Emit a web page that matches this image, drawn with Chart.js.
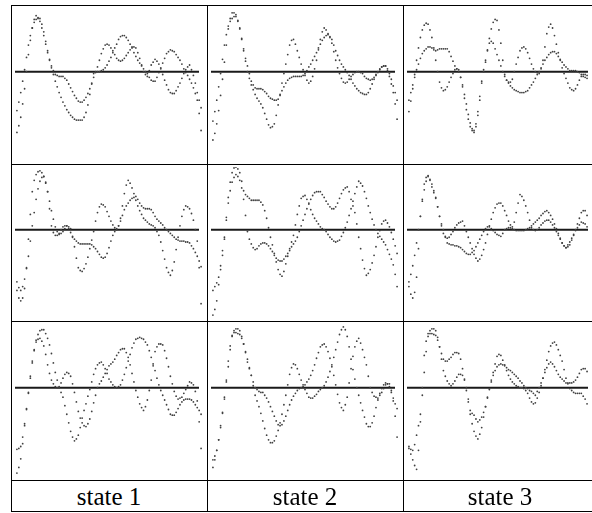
<!DOCTYPE html>
<html>
<head>
<meta charset="utf-8">
<script src="https://cdn.jsdelivr.net/npm/chart.js@4/dist/chart.umd.min.js"></script>
<style>
  body { margin: 0; background: #fff; }
  #page { position: relative; width: 592px; height: 513px; overflow: hidden; background: #fff; }
  canvas { position: absolute; }
  .hl, .vl { position: absolute; background: #000; z-index: 2; }
  .lbl {
    position: absolute; z-index: 2; text-align: center;
    font-family: "Liberation Serif", "Times New Roman", serif; font-size: 25px;
    height: 31px; line-height: 31px; color: #000;
  }
</style>
</head>
<body>
<div id="page"></div>
<script>
// sample positions along each panel (px from the panel's left edge)
const xs = [2,4,6,8,10,12,14,16,18,20,22,24,26,28,30,32,34,36,38,40,42,44,46,48,50,
  52,54,56,58,60,62,64,66,68,70,72,74,76,78,80,82,84,86,88,90,92,94,96,98,100,
  102,104,106,108,110,112,114,116,118,120,122,124,126,128,130,132,134,136,138,140,
  142,144,146,148,150,152,154,156,158,160,162,164,166,168,170,172,174,176,178,180,
  182,184,186,188,190,192,194];

const stateLabels = ["state 1", "state 2", "state 3"];

// row 1
const p11a = [-64,-57,-48,-34,-18,0,18,33,46,55,59,57,53,46,38,29,20,12,4,-3,
  -10,-16,-22,-27,-32,-36,-40,-43,-46,-48,-50,-51,-51,-51,-51,-48,-43,-35,-24,-13,
  -2,-1,0,0,1,2,4,7,11,15,20,25,29,34,37,38,38,36,33,29,
  25,20,16,12,9,6,3,0,-2,-6,-9,-10,-10,-6,-1,4,9,14,19,21,
  23,22,21,18,15,12,8,3,-1,-4,-8,-12,-17,-23,-30,-44,-62];
const p11b = [-41,-32,-22,-10,2,15,28,38,46,52,55,56,56,50,42,32,22,13,6,1,
  -3,-4,-5,-5,-5,-7,-9,-13,-17,-21,-25,-28,-31,-32,-32,-30,-27,-23,-18,-12,
  -6,0,5,12,19,24,28,29,28,25,22,18,14,12,11,12,14,17,20,23,
  26,26,25,20,14,7,0,-3,-5,1,7,10,13,11,8,3,-3,-9,-14,-19,
  -22,-23,-23,-20,-16,-12,-7,-2,2,5,7,2,-4,-12,-22,-30,-38];
const p12a = [-72,-65,-55,-41,-25,-8,10,28,45,56,62,62,60,54,45,34,22,11,0,-7,
  -14,-19,-24,-28,-31,-34,-38,-44,-50,-56,-59,-58,-55,-46,-35,-24,-12,-2,8,18,
  28,33,34,29,22,15,8,2,-4,-9,-12,-10,-5,3,12,23,34,42,46,44,
  40,36,30,21,12,4,-2,-7,-11,-12,-11,-8,-5,-3,-1,0,0,-1,-2,-5,
  -7,-8,-9,-8,-6,-3,0,3,5,6,6,1,-5,-13,-22,-34,-50];
const p12b = [-52,-42,-30,-16,-2,13,28,39,48,53,56,58,58,53,46,35,24,14,6,-2,
  -10,-14,-17,-18,-18,-18,-19,-21,-23,-26,-28,-29,-30,-30,-29,-25,-20,-16,-12,-9,
  -7,-6,-5,-5,-5,-5,-5,-4,-2,1,5,8,12,16,20,25,29,33,36,38,
  39,37,34,28,22,17,12,8,5,2,-1,-4,-8,-12,-15,-18,-20,-22,-23,-24,
  -24,-22,-18,-13,-8,-4,-1,2,5,6,6,3,-2,-8,-15,-22,-30];
const p13a = [-42,-31,-18,-3,12,25,36,44,49,51,50,44,36,25,12,0,-11,-17,-20,-19,
  -16,-11,-6,-2,2,3,2,-6,-16,-28,-40,-50,-58,-62,-64,-58,-46,-30,-12,0,
  10,23,35,45,52,55,54,44,30,12,-3,-9,-11,-11,-8,0,8,15,22,25,
  26,24,20,14,8,3,0,-1,-2,3,12,26,40,47,50,46,38,29,20,12,
  4,-2,-7,-12,-17,-19,-20,-18,-14,-9,-5,-3,-3,-4,-6,-7,-8];
const p13b = [-30,-22,-14,-6,2,8,14,19,22,24,26,26,25,23,22,23,24,24,24,24,
  24,21,16,11,6,3,0,-6,-14,-24,-34,-45,-54,-60,-62,-55,-42,-26,-10,2,
  12,22,30,32,30,24,18,12,6,0,-5,-9,-12,-15,-17,-19,-20,-21,-22,-22,
  -22,-21,-20,-17,-14,-11,-7,-3,0,4,8,12,15,18,20,21,21,19,16,13,
  10,7,5,3,1,1,1,1,0,-1,-3,-5,-6,-7,-8,-9,-9];
// row 2
const p21a = [-64,-72,-75,-72,-62,-40,-10,16,40,52,58,61,62,60,56,49,40,30,20,11,
  3,-2,-5,-4,-2,1,4,3,1,-8,-18,-30,-40,-43,-44,-41,-36,-29,-20,-11,
  -2,9,18,24,27,26,24,19,14,9,5,2,1,4,12,25,38,47,52,49,
  44,38,31,25,20,16,12,10,8,6,5,4,2,-2,-6,-13,-22,-31,-40,-45,
  -48,-43,-34,-21,-8,4,14,21,25,24,22,17,10,0,-12,-40,-78];
const p21b = [-55,-61,-64,-60,-52,-41,-28,-12,4,18,32,43,51,55,56,50,40,22,4,-3,
  -6,-6,-4,0,3,4,4,1,-3,-7,-10,-12,-14,-15,-15,-15,-15,-15,-15,-16,
  -18,-20,-23,-26,-29,-30,-29,-25,-19,-12,-6,-2,0,4,9,15,21,25,28,31,
  33,34,35,32,28,25,23,22,22,22,21,18,14,11,9,7,5,2,0,-2,
  -4,-6,-8,-10,-11,-12,-12,-12,-13,-13,-14,-17,-20,-24,-28,-33,-39];
const p22a = [-90,-84,-75,-58,-38,-22,-8,13,34,50,60,65,66,64,60,51,41,37,35,33,
  31,31,31,31,31,29,26,20,12,2,-8,-16,-25,-34,-42,-47,-49,-44,-36,-28,
  -20,-13,-6,5,16,25,33,35,36,32,27,21,16,12,9,6,3,1,0,-2,
  -5,-8,-10,-12,-13,-12,-11,-7,-3,2,8,15,22,30,38,45,51,49,46,40,
  33,25,18,11,5,0,-4,-7,-10,-13,-16,-21,-26,-31,-37,-47,-60];
const p22b = [-64,-60,-56,-50,-42,-27,-10,10,28,41,50,55,58,56,52,44,32,15,-2,-10,
  -15,-19,-21,-20,-17,-15,-14,-14,-15,-17,-20,-23,-27,-30,-32,-33,-33,-31,-28,-25,
  -22,-18,-15,-12,-8,-2,4,10,16,22,28,32,36,39,40,40,40,37,34,30,
  27,24,22,22,24,28,33,38,42,44,45,40,32,25,18,6,-8,-20,-32,-41,
  -48,-46,-42,-35,-27,-18,-8,-1,6,9,10,7,3,-3,-10,-17,-25];
const p23a = [-60,-68,-72,-66,-50,-20,14,30,42,51,56,53,48,41,34,24,14,4,-4,-7,
  -9,-8,-5,-2,2,5,7,8,9,4,-2,-8,-14,-20,-26,-30,-33,-31,-27,-21,
  -14,-5,4,11,18,23,27,28,28,25,20,15,9,5,3,8,18,28,37,35,
  31,25,18,10,2,0,-1,0,2,5,7,9,10,10,8,5,2,-2,-6,-10,
  -14,-17,-19,-18,-16,-11,-6,0,6,12,18,20,20,15,8,4,0];
const p23b = [-55,-47,-38,-27,-14,0,14,32,48,55,57,52,45,39,33,24,14,6,0,-8,
  -14,-15,-16,-16,-17,-17,-18,-19,-21,-23,-25,-26,-26,-24,-22,-18,-14,-10,-6,-2,
  1,3,3,1,-1,-3,-5,-6,-7,-4,0,1,2,2,1,0,-1,-1,-1,-1,
  -1,0,1,2,4,6,8,10,12,15,17,19,20,18,15,11,6,1,-4,-9,
  -14,-17,-19,-16,-13,-9,-5,-1,2,5,8,7,6,3,1,-1,-2];
// row 3
const p31a = [-90,-84,-75,-59,-40,-23,-6,10,26,39,50,56,60,61,61,57,52,45,36,26,
  16,8,1,-5,-10,-19,-28,-37,-46,-52,-56,-54,-50,-42,-32,-24,-17,-9,-2,6,
  14,20,24,26,27,24,20,15,9,6,3,1,0,1,3,8,14,21,28,35,
  42,47,51,52,53,52,51,48,45,39,32,25,18,10,3,-3,-8,-13,-18,-23,
  -28,-29,-29,-26,-22,-18,-15,-13,-12,-12,-12,-13,-15,-18,-21,-24,-28];
const p31b = [-65,-64,-62,-52,-38,-22,-5,12,28,40,48,51,52,49,44,35,24,15,8,4,
  1,0,0,5,10,14,16,15,12,4,-5,-15,-25,-32,-37,-40,-41,-38,-33,-25,
  -16,-8,0,4,7,11,15,19,23,25,27,30,34,37,40,41,41,37,32,24,
  15,6,-3,-10,-17,-21,-24,-20,-13,-3,8,23,38,43,46,46,45,39,31,22,
  12,4,-4,-9,-12,-11,-10,-6,-2,2,6,5,3,-4,-14,-36,-64];
const p32a = [-84,-76,-66,-55,-42,-27,-10,6,22,40,54,60,62,62,60,54,46,37,27,20,
  13,2,-8,-14,-20,-27,-35,-43,-50,-55,-58,-58,-56,-51,-45,-37,-28,-18,-8,3,
  14,21,25,24,20,14,8,3,-2,-6,-10,-11,-11,-9,-7,-4,-2,0,2,6,
  11,17,24,32,40,48,56,61,64,61,54,43,30,19,9,0,-8,-16,-24,-31,
  -38,-41,-41,-37,-30,-21,-13,-6,-1,3,5,4,1,-5,-14,-30,-52];
const p32b = [-76,-72,-66,-55,-40,-26,-12,8,28,44,55,58,58,57,56,52,46,38,30,21,
  13,6,0,-2,-4,-5,-5,-8,-11,-15,-20,-25,-30,-35,-39,-40,-39,-35,-30,-24,
  -18,-13,-9,-6,-3,-1,0,1,3,6,9,13,18,24,31,37,43,45,46,43,
  38,31,22,13,3,-7,-16,-21,-24,-18,-10,5,20,33,43,49,52,47,40,32,
  24,12,0,-5,-9,-10,-11,-8,-5,-1,3,4,4,-3,-11,-17,-22];
const p33a = [-64,-70,-76,-82,-86,-66,-36,0,34,49,57,60,62,62,60,53,43,36,30,28,
  28,30,32,35,37,37,36,30,20,9,-3,-15,-28,-38,-46,-51,-54,-49,-42,-31,
  -20,-10,-1,8,16,25,33,35,34,29,24,18,13,9,6,4,2,1,0,0,
  -1,-3,-6,-11,-15,-17,-16,-11,-5,2,10,19,29,38,44,47,48,45,40,34,
  28,19,10,4,-1,-3,-5,-6,-6,-6,-6,-9,-12,-17,-22,-26,-30];
const p33b = [-62,-65,-66,-60,-50,-40,-28,-8,16,38,54,57,57,56,55,50,43,30,18,12,
  7,4,2,4,7,11,14,14,13,8,0,-12,-24,-27,-29,-33,-36,-34,-31,-26,
  -20,-11,-2,6,13,18,22,24,25,24,23,21,19,18,16,14,12,10,7,5,
  2,0,-1,-3,-4,-6,-8,-4,0,5,10,16,21,25,27,25,22,18,14,11,
  9,7,5,5,5,5,6,8,11,15,19,20,20,17,14,12,10];

const panels = [
  [[p11a, p11b], [p12a, p12b], [p13a, p13b]],
  [[p21a, p21b], [p22a, p22b], [p23a, p23b]],
  [[p31a, p31b], [p32a, p32b], [p33a, p33b]]
];

const page = document.getElementById("page");
const colLeft = [11, 207, 403];
const colWidth = [196, 196, 189];
const rowTop = [5, 163, 321];
const panelH = 158;

// zero line drawn through the y scale
const zeroLine = {
  id: "zeroLine",
  beforeDatasetsDraw(chart, args, opts) {
    const { ctx, chartArea, scales } = chart;
    const y = scales.y.getPixelForValue(0);
    ctx.save();
    ctx.strokeStyle = "#1a1a1a";
    ctx.lineWidth = 2;
    ctx.beginPath();
    ctx.moveTo(chartArea.left, y);
    ctx.lineTo(chartArea.right - (opts.gap || 0), y);
    ctx.stroke();
    ctx.restore();
  }
};

function toPoints(vals) {
  return xs.map((x, i) => ({ x: x, y: vals[i] }));
}

panels.forEach((row, r) => {
  row.forEach((pair, c) => {
    const cv = document.createElement("canvas");
    cv.width = colWidth[c];
    cv.height = panelH;
    cv.style.left = colLeft[c] + "px";
    cv.style.top = rowTop[r] + "px";
    page.appendChild(cv);

    new Chart(cv.getContext("2d"), {
      type: "scatter",
      data: {
        datasets: pair.map(vals => ({
          data: toPoints(vals),
          pointRadius: 0.9,
          pointBackgroundColor: "#404040",
          pointBorderWidth: 0,
          showLine: false
        }))
      },
      options: {
        responsive: false,
        devicePixelRatio: 1,
        animation: false,
        events: [],
        layout: { padding: 0 },
        plugins: {
          legend: { display: false },
          tooltip: { enabled: false },
          zeroLine: { gap: c < 2 ? 4 : 0 }
        },
        scales: {
          x: { type: "linear", display: false, min: 0, max: colWidth[c] },
          y: { display: false, min: -92, max: 66 }
        }
      },
      plugins: [zeroLine]
    });
  });
});

// table rules
[5, 164, 321, 480, 511].forEach(y => {
  const d = document.createElement("div");
  d.className = "hl";
  d.style.cssText = `left:11px;top:${y}px;width:581px;height:1px;`;
  page.appendChild(d);
});
[11, 207, 403].forEach(x => {
  const d = document.createElement("div");
  d.className = "vl";
  d.style.cssText = `left:${x}px;top:5px;width:1px;height:507px;`;
  page.appendChild(d);
});

// state labels
const labelCenter = [109, 305, 500];
stateLabels.forEach((t, i) => {
  const d = document.createElement("div");
  d.className = "lbl";
  d.textContent = t;
  d.style.left = (labelCenter[i] - 90) + "px";
  d.style.top = "481px";
  d.style.width = "180px";
  page.appendChild(d);
});
</script>
</body>
</html>
